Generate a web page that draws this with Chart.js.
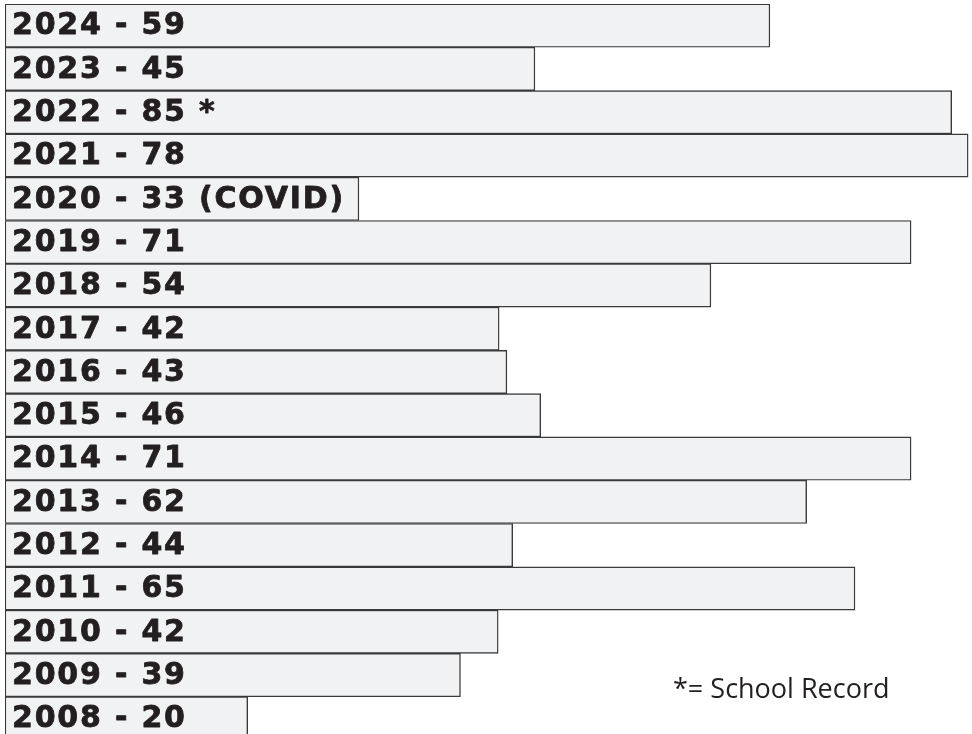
<!DOCTYPE html>
<html><head><meta charset="utf-8">
<script src="https://cdn.jsdelivr.net/npm/chart.js@4"></script>
<style>
html,body{margin:0;padding:0;background:#fff;overflow:hidden;width:972px;height:734px}
canvas{display:block}
</style></head>
<body><canvas id="c" width="972" height="740"></canvas>
<script>
// Categories (years), top to bottom
const years = ['2024','2023','2022','2021','2020','2019','2018','2017','2016','2015','2014','2013','2012','2011','2010','2009','2008'];
// Values shown in each label
const counts = [59,45,85,78,33,71,54,42,43,46,71,62,44,65,42,39,20];
// Extra label notes
const notes = ['','',' *','',' (COVID)','','','','','','','','','','','',''];
// Drawn bar lengths (percent of the longest possible bar)
const barLengths = [79.1,54.8,97.9,99.6,36.6,93.7,73.0,51.1,51.9,55.4,93.7,82.9,52.5,87.9,51.0,47.1,25.1];
const footnote = '*= School Record';

const labelPlugin = {
  id: 'barLabels',
  afterDatasetsDraw(chart) {
    const ctx = chart.ctx;
    const meta = chart.getDatasetMeta(0);
    ctx.save();
    ctx.fillStyle = '#231f20';
    ctx.strokeStyle = '#231f20';
    ctx.lineWidth = 0.8;
    ctx.lineJoin = 'round';
    ctx.font = 'bold 30px "DejaVu Sans"';
    try { ctx.letterSpacing = '1.8px'; } catch(e) {}
    ctx.textBaseline = 'middle';
    ctx.textAlign = 'left';
    meta.data.forEach((bar, i) => {
      const txt = (years[i] + ' - ' + counts[i] + notes[i]).toUpperCase();
      ctx.fillText(txt, bar.base + 7, bar.y + 1);
      ctx.strokeText(txt, bar.base + 7, bar.y + 1);
    });
    try { ctx.letterSpacing = '0px'; } catch(e) {}
    ctx.font = '27px "Open Sans"';
    ctx.textBaseline = 'alphabetic';
    ctx.fillText(footnote, 673, 698);
    ctx.restore();
  }
};

new Chart(document.getElementById('c'), {
  type: 'bar',
  data: {
    labels: years,
    datasets: [{
      data: barLengths,
      backgroundColor: '#f1f2f4',
      borderColor: '#3a3a3a',
      borderWidth: 1.4,
      borderSkipped: false,
      barPercentage: 1,
      categoryPercentage: 1
    }]
  },
  options: {
    indexAxis: 'y',
    responsive: false,
    devicePixelRatio: 1,
    animation: false,
    layout: { padding: { left: 5, top: 4, right: 0, bottom: 0 } },
    scales: {
      x: { type: 'linear', min: 0, max: 100, display: false },
      y: { display: false, offset: true }
    },
    plugins: { legend: { display: false }, tooltip: { enabled: false } }
  },
  plugins: [labelPlugin]
});
</script>
</body></html>
